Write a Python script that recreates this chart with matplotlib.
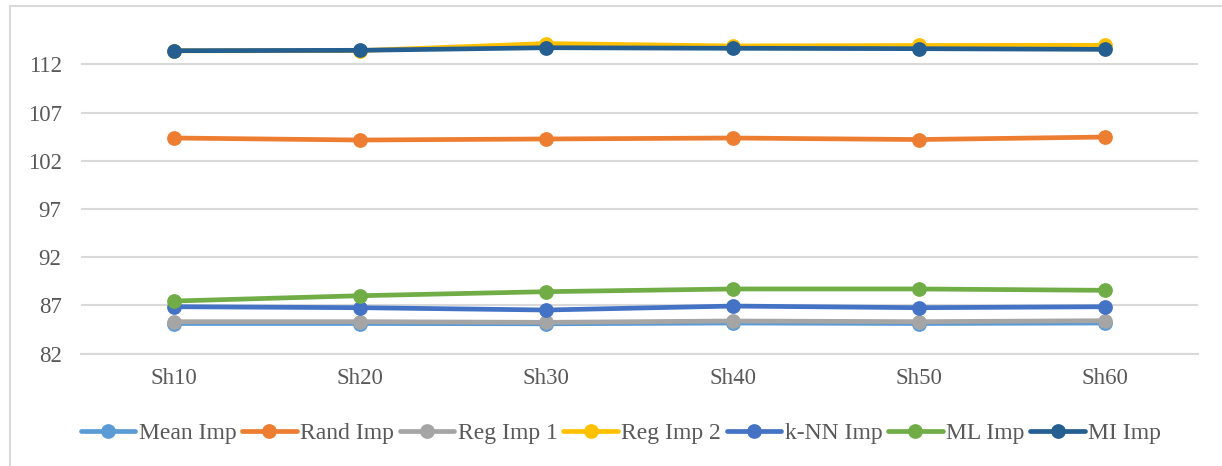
import matplotlib
matplotlib.use("Agg")
import matplotlib.pyplot as plt
from matplotlib.patches import Rectangle

categories = ["Sh10", "Sh20", "Sh30", "Sh40", "Sh50", "Sh60"]
mean_imp = [85.13, 85.13, 85.1, 85.18, 85.13, 85.18]
rand_imp = [104.36, 104.15, 104.26, 104.36, 104.2, 104.46]
reg_imp1 = [85.32, 85.32, 85.25, 85.39, 85.32, 85.42]
reg_imp2 = [113.4, 113.42, 114.15, 113.9, 113.95, 113.97]
knn_imp = [86.87, 86.77, 86.53, 86.94, 86.77, 86.87]
ml_imp = [87.46, 88.01, 88.43, 88.71, 88.71, 88.57]
mi_imp = [113.41, 113.45, 113.72, 113.66, 113.62, 113.55]
yticks = [82, 87, 92, 97, 102, 107, 112]

series = [
    ("Mean Imp", mean_imp, "#5B9BD5"),
    ("Rand Imp", rand_imp, "#ED7D31"),
    ("Reg Imp 1", reg_imp1, "#A5A5A5"),
    ("Reg Imp 2", reg_imp2, "#FFC000"),
    ("k-NN Imp", knn_imp, "#4472C4"),
    ("ML Imp", ml_imp, "#70AD47"),
    ("MI Imp", mi_imp, "#255E91"),
]

plt.rcParams['font.family'] = ['Liberation Serif', 'DejaVu Serif']
W, H = 1222, 466
fig = plt.figure(figsize=(W / 100, H / 100), dpi=100)

# chart border (partially cropped on right/bottom)
fig.patches.append(Rectangle((10 / W, -0.05), 1.2, (H - 6) / H + 0.05,
                             transform=fig.transFigure, fill=False,
                             edgecolor="#D9D9D9", linewidth=1.5))

left, right = 81, 1198
y82, y112 = 353.7, 64.3
ppu = (y82 - y112) / 30
ytop_val = 116.0
ytop_px = y112 - (ytop_val - 112) * ppu
ax = fig.add_axes([left / W, (H - y82) / H, (right - left) / W, (y82 - ytop_px) / H])

x = list(range(len(categories)))
for name, vals, col in series:
    ax.plot(x, vals, color=col, linewidth=3.4, marker="o", markersize=9.6,
            label=name, solid_capstyle="round", zorder=3)

ax.set_xlim(-0.5, len(categories) - 0.5)
ax.set_ylim(82, ytop_val)
ax.set_yticks(yticks)
ax.set_xticks(x)
ax.set_xticklabels(categories)
ax.grid(axis="y", color="#D9D9D9", linewidth=1.5)
ax.set_axisbelow(True)
for s in ["top", "right", "left"]:
    ax.spines[s].set_visible(False)
ax.spines["bottom"].set_color("#D9D9D9")
ax.spines["bottom"].set_linewidth(1.5)
ax.tick_params(axis="both", length=0, labelsize=16.5, labelcolor="#595959")
ax.tick_params(axis="y", pad=14)
ax.tick_params(axis="x", pad=10)

leg = fig.legend(loc="center", bbox_to_anchor=(621 / W, (H - 433) / H), ncol=7,
                 frameon=False, fontsize=17, handlelength=2.3, handletextpad=0.15,
                 columnspacing=0.25, labelcolor="#595959")

fig.savefig("out.png", dpi=100)
